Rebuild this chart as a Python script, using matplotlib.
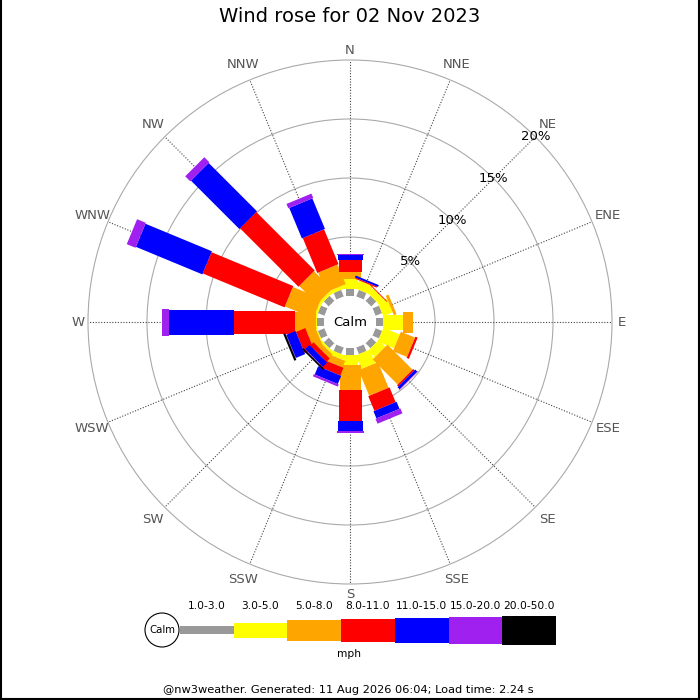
import matplotlib
matplotlib.use("Agg")
import matplotlib.pyplot as plt
from matplotlib.patches import Polygon, Circle, Rectangle
from matplotlib.lines import Line2D
import numpy as np

# wind rose data, % of time per direction and speed class
directions = ["N", "NNE", "NE", "ENE", "E", "ESE", "SE", "SSE",
              "S", "SSW", "SW", "WSW", "W", "WNW", "NW", "NNW"]
speed_bins = ["1.0-3.0", "3.0-5.0", "5.0-8.0", "8.0-11.0", "11.0-15.0", "15.0-20.0", "20.0-50.0"]
bin_colors = ["#999999", "#ffff00", "#ffa500", "#ff0000", "#0000ff", "#a020f0", "#000000"]

freq_1_3 = [0.6, 0.6, 0.6, 0.6, 0.6, 0.6, 0.6, 0.6, 0.6, 0.6, 0.6, 0.6, 0.6, 0.6, 0.6, 0.6]
freq_3_5 = [0.8, 0.75, 0.6, 0.85, 1.7, 1.5, 0.8, 1.25, 0.85, 0.4, 0.2, 0.1, 0.1, 0.2, 0.25, 0.3]
freq_5_8 = [0.65, 0.0, 0.0, 0.25, 0.8, 1.3, 3.0, 2.35, 2.15, 0.6, 0.4, 0.8, 1.75, 2.6, 2.15, 1.8]
freq_8_11 = [1.0, 0.1, 0.07, 0.0, 0.0, 0.2, 0.15, 1.35, 2.6, 0.7, 0.4, 0.85, 5.15, 7.5, 7.0, 3.2]
freq_11_15 = [0.42, 0.17, 0.0, 0.0, 0.0, 0.0, 0.25, 0.65, 0.8, 0.75, 0.5, 0.85, 5.5, 6.1, 5.8, 2.8]
freq_15_20 = [0.09, 0.0, 0.0, 0.0, 0.0, 0.0, 0.05, 0.45, 0.2, 0.2, 0.05, 0.03, 0.65, 0.8, 0.6, 0.4]
freq_20_50 = [0.0, 0.0, 0.0, 0.0, 0.0, 0.0, 0.0, 0.0, 0.0, 0.0, 0.15, 0.18, 0.0, 0.0, 0.0, 0.0]
freqs = [freq_1_3, freq_3_5, freq_5_8, freq_8_11, freq_11_15, freq_15_20, freq_20_50]

rings = [5, 10, 15, 20]
title = "Wind rose for 02 Nov 2023"
footer = "@nw3weather. Generated: 11 Aug 2026 06:04; Load time: 2.24 s"

# layout in pixels
CX, CY = 350, 322
CALM_R = 26
PX_PER_PCT = 11.8
bar_widths = [8, 15, 21, 23, 25, 27, 29]


def radius(pct):
    return CALM_R + pct * PX_PER_PCT


def to_xy(theta, r):
    t = np.radians(theta)
    return CX + r * np.sin(t), CY - r * np.cos(t)


fig = plt.figure(figsize=(7, 7), dpi=100)
ax = fig.add_axes([0, 0, 1, 1])
ax.set_xlim(0, 700)
ax.set_ylim(700, 0)
ax.set_aspect("equal")
ax.set_axis_off()

r_max = radius(rings[-1])

# rings and spokes
for p in rings:
    ax.add_patch(Circle((CX, CY), radius(p), fill=False, edgecolor="#aaaaaa", lw=0.8, zorder=1))
for i, d in enumerate(directions):
    theta = i * 22.5
    x0, y0 = to_xy(theta, CALM_R)
    x1, y1 = to_xy(theta, r_max)
    ax.plot([x0, x1], [y0, y1], color="#444444", lw=0.8, ls=(0, (1, 1.5)), zorder=1)
    lr = 272 if i % 4 == 0 else 279
    lx, ly = to_xy(theta, lr)
    ax.text(lx, ly, d, ha="center", va="center", fontsize=9.5, color="#555555")

# bars
for i in range(len(directions)):
    theta = np.radians(i * 22.5)
    u = np.array([np.sin(theta), -np.cos(theta)])
    v = np.array([np.cos(theta), np.sin(theta)])
    c = np.array([CX, CY])
    start = 0.0
    for k in range(len(speed_bins)):
        val = freqs[k][i]
        if val <= 0:
            continue
        r0 = radius(start)
        r1 = radius(start + val)
        hw = bar_widths[k] / 2
        pts = [c + r0 * u - hw * v, c + r1 * u - hw * v, c + r1 * u + hw * v, c + r0 * u + hw * v]
        ax.add_patch(Polygon(pts, closed=True, facecolor=bin_colors[k], edgecolor="none", zorder=2 + k * 0.01))
        start += val

# calm circle
ax.add_patch(Circle((CX, CY), CALM_R, facecolor="white", edgecolor="none", zorder=3))
ax.text(CX, CY, "Calm", ha="center", va="center", fontsize=9.5, zorder=4)

# percentage labels along NE spoke
for p in rings:
    x, y = to_xy(45, radius(p))
    ax.text(x, y, f"{p}%", ha="center", va="center", fontsize=9.5, color="black", zorder=5)

ax.text(350, 17, title, ha="center", va="center", fontsize=14)

# legend
lx0 = 180
seg_w = 53.7
ly = 630
ax.add_patch(Circle((162, ly), 17, facecolor="white", edgecolor="black", lw=0.8))
ax.text(162, ly, "Calm", ha="center", va="center", fontsize=7.3)
for k, lab in enumerate(speed_bins):
    h = bar_widths[k]
    ax.add_patch(Rectangle((lx0 + k * seg_w, ly - h / 2), seg_w, h, facecolor=bin_colors[k], edgecolor="none"))
    ax.text(lx0 + (k + 0.5) * seg_w, 606, lab, ha="center", va="center", fontsize=7.7)
ax.text(349, 654, "mph", ha="center", va="center", fontsize=7.7)

ax.text(348, 690, footer, ha="center", va="center", fontsize=8.2)

# frame on left, right and bottom
fig.add_artist(Line2D([0.001, 0.001], [0, 1], transform=fig.transFigure, color="black", lw=1.5))
fig.add_artist(Line2D([0.999, 0.999], [0, 1], transform=fig.transFigure, color="black", lw=1.5))
fig.add_artist(Line2D([0, 1], [0.001, 0.001], transform=fig.transFigure, color="black", lw=1.5))

fig.savefig("out.png", dpi=100)
